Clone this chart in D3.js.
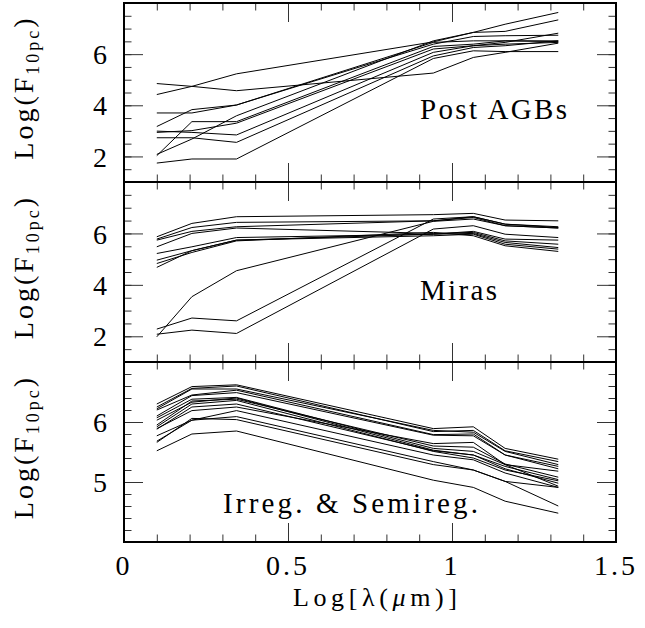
<!DOCTYPE html>
<html>
<head>
<meta charset="utf-8">
<script src="https://cdn.jsdelivr.net/npm/d3@7"></script>
<style>
  body { margin: 0; background: #fff; }
  text { font-family: "Liberation Serif", serif; fill: #000; }
</style>
</head>
<body>
<svg id="chart" width="645" height="628"></svg>
<script>
// wavelengths of the photometric points, Log[lambda(um)]
const logLambda = [0.1, 0.207, 0.343, 0.943, 1.065, 1.162, 1.324]

// Log(F_10pc) for each source, one row per star
const postAGB = [
  [4.42, 4.74, 5.23, 6.48, 6.85, 7.17, 7.63],
  [4.85, 4.74, 4.57, 5.26, 5.87, 6.07, 6.43],
  [3.70, 3.70, 4.01, 6.39, 6.69, 6.72, 6.74],
  [3.17, 3.83, 4.01, 6.46, 6.52, 6.52, 6.52],
  [2.99, 2.94, 2.84, 6.07, 6.33, 6.46, 6.82],
  [2.73, 2.73, 2.55, 5.93, 6.26, 6.33, 6.52],
  [2.08, 2.68, 3.59, 6.52, 6.85, 6.89, 7.34],
  [2.03, 3.36, 3.36, 6.30, 6.39, 6.52, 6.49],
  [1.74, 1.90, 1.90, 5.83, 6.13, 6.10, 6.10],
  [2.94, 3.01, 3.30, 6.20, 6.33, 6.39, 6.46]
]

const miras = [
  [5.87, 6.39, 6.65, 6.73, 6.78, 6.52, 6.49],
  [5.78, 6.23, 6.43, 6.49, 6.65, 6.36, 6.26],
  [5.74, 6.08, 6.26, 6.49, 6.62, 6.30, 6.21],
  [5.48, 6.00, 6.21, 6.00, 6.04, 5.71, 5.58],
  [5.22, 5.48, 5.84, 5.97, 6.08, 5.78, 5.74],
  [4.96, 5.33, 5.74, 5.91, 5.97, 5.58, 5.39],
  [4.83, 5.26, 5.71, 6.04, 5.91, 5.52, 5.30],
  [4.68, 5.33, 5.74, 5.97, 6.00, 5.65, 5.45],
  [1.98, 3.54, 4.55, 6.47, 6.56, 6.30, 6.21],
  [2.28, 2.71, 2.60, 6.56, 6.65, 6.36, 6.23],
  [2.08, 2.24, 2.11, 6.17, 6.30, 5.97, 5.84]
]

const irregular = [
  [6.30, 6.59, 6.62, 5.89, 5.92, 5.56, 5.38],
  [6.22, 6.55, 6.55, 5.86, 5.83, 5.51, 5.29],
  [6.20, 6.45, 6.53, 5.79, 5.80, 5.45, 5.26],
  [6.10, 6.44, 6.49, 5.78, 5.77, 5.45, 5.22],
  [6.07, 6.38, 6.41, 5.56, 5.51, 5.29, 5.18],
  [6.03, 6.33, 6.40, 5.53, 5.45, 5.26, 5.04],
  [5.92, 6.30, 6.36, 5.51, 5.40, 5.20, 5.02],
  [5.89, 6.19, 6.25, 5.64, 5.66, 5.29, 4.93],
  [5.77, 6.03, 6.19, 5.45, 5.37, 5.15, 4.91],
  [5.68, 6.03, 6.09, 5.34, 5.20, 5.01, 4.60],
  [5.52, 5.80, 5.85, 5.03, 4.91, 4.68, 4.48],
  [5.66, 6.06, 6.04, 5.29, 5.20, 5.01, 4.91],
  [6.25, 6.56, 6.60, 5.84, 5.86, 5.52, 5.34],
  [5.95, 6.35, 6.38, 5.60, 5.58, 5.30, 5.08],
  [5.88, 6.25, 6.30, 5.52, 5.45, 5.22, 4.98]
]

const panelNames = ["Post AGBs", "Miras", "Irreg. & Semireg."]
const xTickValues = [0, 0.5, 1, 1.5]
const xTickLabels = ["0", "0.5", "1", "1.5"]

const svg = d3.select("#chart")
const left = 124, right = 616

const x = d3.scaleLinear().domain([0, 1.5]).range([left, right])

const panels = [
  {data: postAGB, domain: [1, 8], top: 3, bottom: 182, minor: 0.5, major: [2, 4, 6],
   label: {x: 420, y: 119, len: 147}},
  {data: miras, domain: [1, 8], top: 182, bottom: 362, minor: 0.5, major: [2, 4, 6],
   label: {x: 420, y: 300, len: 77}},
  {data: irregular, domain: [4, 7], top: 362, bottom: 542, minor: 0.2, major: [5, 6],
   label: {x: 223, y: 513, len: 255}}
]

const minorX = d3.range(1, 15).map(d => d / 10)
const majorX = [0.5, 1]

function ticks(g, axis, size, values) {
  g.call(axis.tickValues(values).tickSize(-size).tickFormat(""))
  g.select(".domain").remove()
  g.selectAll("line").attr("stroke", "#333")
}

panels.forEach((p, k) => {
  const y = d3.scaleLinear().domain(p.domain).range([p.bottom, p.top])
  const g = svg.append("g")
  const n = Math.round((p.domain[1] - p.domain[0]) / p.minor)
  const minorY = d3.range(1, n).map(i => p.domain[0] + i * p.minor)

  // ticks on all four sides, pointing in
  ;[[minorX, 7.5], [majorX, 19]].forEach(([vals, s]) => {
    ticks(g.append("g").attr("transform", `translate(0,${p.bottom})`), d3.axisBottom(x), s, vals)
    ticks(g.append("g").attr("transform", `translate(0,${p.top})`), d3.axisTop(x), s, vals)
  })
  ;[[minorY, 7.5], [p.major, 19]].forEach(([vals, s]) => {
    ticks(g.append("g").attr("transform", `translate(${left},0)`), d3.axisLeft(y), s, vals)
    ticks(g.append("g").attr("transform", `translate(${right},0)`), d3.axisRight(y), s, vals)
  })

  // y tick labels
  g.selectAll(".ylab").data(p.major).enter().append("text")
    .attr("x", 100).attr("y", d => y(d)).attr("dy", "0.36em")
    .attr("text-anchor", "middle").attr("font-size", 28)
    .text(d => d)

  // star SEDs
  const line = d3.line().x((d, i) => x(logLambda[i])).y(d => y(d))
  g.selectAll(".sed").data(p.data).enter().append("path")
    .attr("d", line).attr("fill", "none").attr("stroke", "#000").attr("stroke-width", 1)

  // frame
  g.append("rect").attr("x", left).attr("y", p.top)
    .attr("width", right - left).attr("height", p.bottom - p.top)
    .attr("fill", "none").attr("stroke", "#000").attr("stroke-width", 2)

  // panel name
  g.append("text").attr("x", p.label.x).attr("y", p.label.y)
    .attr("font-size", 29).attr("textLength", p.label.len).attr("lengthAdjust", "spacing")
    .text(panelNames[k])

  // y axis title
  const cy = (p.top + p.bottom) / 2 - 5
  const t = g.append("text").attr("transform", `translate(33,${cy}) rotate(-90)`)
    .attr("text-anchor", "middle").attr("font-size", 28).attr("letter-spacing", 3)
  t.append("tspan").text("Log(F")
  t.append("tspan").attr("font-size", 18).attr("dy", 6).text("10pc")
  t.append("tspan").attr("dy", -6).text(")")
})

// x tick labels
svg.selectAll(".xlab").data(xTickValues).enter().append("text")
  .attr("x", d => x(d)).attr("y", 575)
  .attr("text-anchor", "middle").attr("font-size", 28).attr("letter-spacing", 3)
  .text((d, i) => xTickLabels[i])

// x axis title
const xt = svg.append("text").attr("x", 375).attr("y", 606)
  .attr("text-anchor", "middle").attr("font-size", 26)
  .attr("textLength", 164).attr("lengthAdjust", "spacing")
xt.append("tspan").text("Log[λ(")
xt.append("tspan").attr("font-style", "italic").text("μ")
xt.append("tspan").text("m)]")
</script>
</body>
</html>
